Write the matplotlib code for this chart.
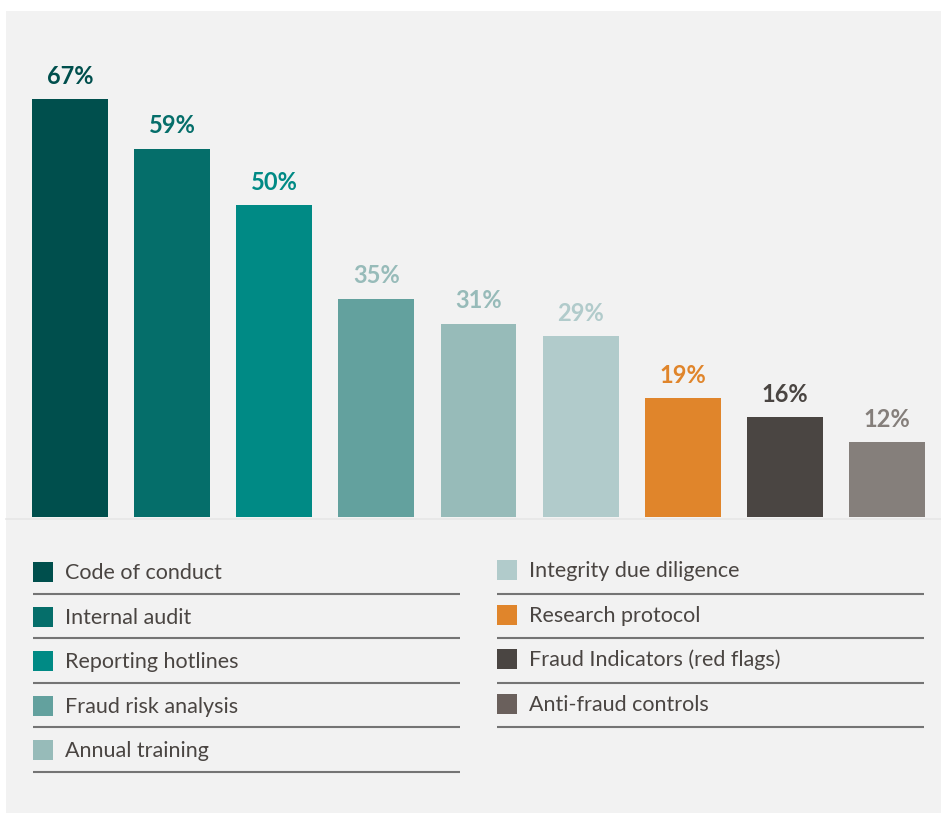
import matplotlib.pyplot as plt
from matplotlib.patches import Rectangle

categories = ['Code of conduct', 'Internal audit', 'Reporting hotlines',
              'Fraud risk analysis', 'Annual training', 'Integrity due diligence',
              'Research protocol', 'Fraud Indicators (red flags)', 'Anti-fraud controls']
values = [67, 59, 50, 35, 31, 29, 19, 16, 12]
labels = ['67%', '59%', '50%', '35%', '31%', '29%', '19%', '16%', '12%']

bar_colors = ['#004f4d', '#056e6a', '#008a85', '#63a19e', '#97bbb9',
              '#b1cbcb', '#e0852b', '#4a4542', '#857f7b']
label_colors = ['#004f4d', '#056e6a', '#008a85', '#97bbb9', '#97bbb9',
                '#b1cbcb', '#e0852b', '#4a4542', '#857f7b']
legend_colors = bar_colors[:-1] + ['#6a605c']

W, H = 941, 813
BG = '#f2f2f2'
TXT = '#4a4542'

fig = plt.figure(figsize=(W / 100, H / 100), dpi=100, facecolor='white')

# gray panel
fig.patches.append(Rectangle((6 / W, 0), 1, 1 - 11 / H, transform=fig.transFigure,
                             facecolor=BG, edgecolor='none', zorder=-10))

# bar axes: bars span x 32..925 px, baseline at y=517 px from top
px_per_pct = 6.24
base = 517
top = 11
ax = fig.add_axes([32 / W, (H - base) / H, (925 - 32) / W, (base - top) / H])
ax.set_facecolor('none')
half = 0.372
ax.set_xlim(-half, len(values) - 1 + half)
ax.set_ylim(0, (base - top) / px_per_pct)
x = list(range(len(values)))
ax.bar(x, values, width=0.744, color=bar_colors, zorder=2)
for i, (v, lab, c) in enumerate(zip(values, labels, label_colors)):
    ax.annotate(lab, (i, v), xytext=(0, 16.5), textcoords='offset points',
                ha='center', va='center', fontsize=17, fontweight='bold',
                family='Lato', color=c)
ax.axis('off')

# overlay axes in pixel coords for legend and baseline
lx = fig.add_axes([0, 0, 1, 1])
lx.set_xlim(0, W)
lx.set_ylim(H, 0)
lx.axis('off')
lx.set_facecolor('none')
lx.plot([6, W], [518.5, 518.5], color='#e6e6e6', lw=1.2, zorder=1)

row_y = [572, 616.5, 661, 705.5, 750]
line_y = [594, 638, 683, 727, 772]
cols = [(33, 65, 460), (497, 529, 924)]
for k, (name, c) in enumerate(zip(categories, legend_colors)):
    col = 0 if k < 5 else 1
    r = k if k < 5 else k - 5
    sx, tx, ex = cols[col]
    cy = row_y[r] - (2 if col == 1 else 0)
    lx.add_patch(Rectangle((sx, cy - 10), 20, 20, facecolor=c, edgecolor='none'))
    lx.text(tx, cy + 7, name, ha='left', va='baseline', fontsize=15.5,
            family='Lato', color=TXT)
    lx.plot([sx, ex], [line_y[r], line_y[r]], color='#747474', lw=1.5,
            solid_capstyle='butt')

fig.savefig('out.png', dpi=100, facecolor='white')
